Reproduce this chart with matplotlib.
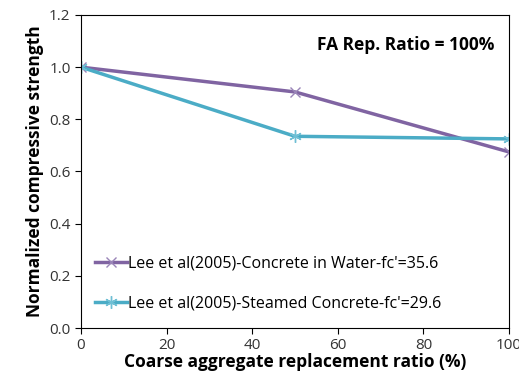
import matplotlib
matplotlib.use('Agg')
import matplotlib.pyplot as plt

# data
x = [0, 50, 100]
water = [1.0, 0.905, 0.675]
steamed = [1.0, 0.735, 0.725]
labelWater = "Lee et al(2005)-Concrete in Water-fc'=35.6"
labelSteamed = "Lee et al(2005)-Steamed Concrete-fc'=29.6"
xticks = [0, 20, 40, 60, 80, 100]
yticks = [0.0, 0.2, 0.4, 0.6, 0.8, 1.0, 1.2]

plt.rcParams['font.family'] = ['Open Sans', 'DejaVu Sans']

fig = plt.figure(figsize=(5.19, 3.80), dpi=100)
ax = fig.add_axes([81/519, 1 - 328/380, 428/519, 313/380])

ax.plot(x, water, color='#8064A2', linewidth=2.5, marker='x', markersize=7,
        markeredgewidth=1.0, markeredgecolor='#9A85B8', label=labelWater)
ax.plot(x, steamed, color='#4BACC6', linewidth=2.5, marker=(6, 2, 0), markersize=9,
        markeredgewidth=1.0, markeredgecolor='#6FBFD4', label=labelSteamed)

ax.set_xlim(0, 100)
ax.set_ylim(0, 1.2)
ax.set_xticks(xticks)
ax.set_yticks(yticks)
ax.set_yticklabels([f'{v:.1f}' for v in yticks])
ax.tick_params(direction='out', length=4, labelsize=11, labelcolor='#333333')
for s in ax.spines.values():
    s.set_linewidth(0.8)

ax.set_xlabel('Coarse aggregate replacement ratio (%)', fontsize=12.5, fontweight='bold', labelpad=0)
ax.set_ylabel('Normalized compressive strength', fontsize=12.5, fontweight='bold', labelpad=4)

ax.text(0.965, 0.905, 'FA Rep. Ratio = 100%', transform=ax.transAxes, ha='right', va='center',
        fontsize=12.5, fontweight='bold')

ax.legend(loc='lower left', bbox_to_anchor=(0.0, 0.008), frameon=False, fontsize=11.5,
          handlelength=2.0, handletextpad=0.05, labelspacing=1.5)

plt.savefig('out.png', dpi=100)
